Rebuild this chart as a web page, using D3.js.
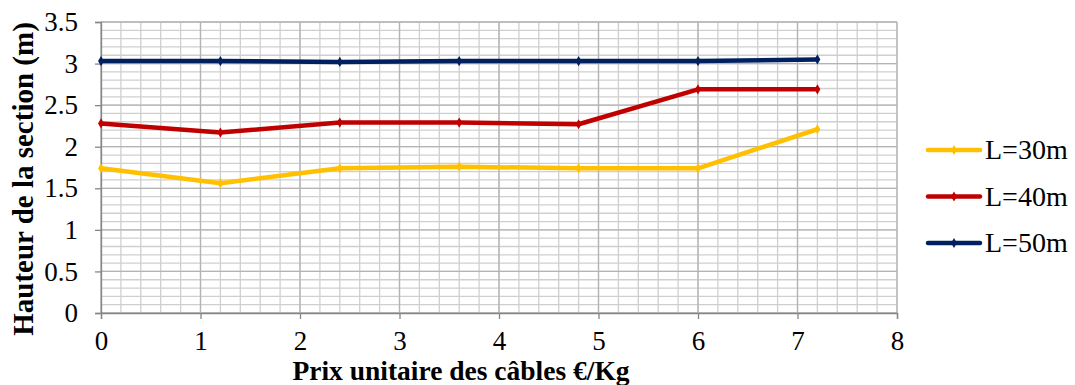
<!DOCTYPE html>
<html><head><meta charset="utf-8">
<script src="https://cdn.jsdelivr.net/npm/d3@7"></script>
<style>body{margin:0;background:#fff}svg{display:block}</style>
</head><body>
<svg id="c" width="1075" height="385"></svg>
<script>
const xValues = [0, 1.2, 2.4, 3.6, 4.8, 6, 7.2];
const seriesNames = ["L=30m", "L=40m", "L=50m"];
const l30 = [1.74, 1.56, 1.74, 1.76, 1.74, 1.74, 2.21];
const l40 = [2.28, 2.17, 2.29, 2.29, 2.27, 2.69, 2.69];
const l50 = [3.03, 3.03, 3.02, 3.03, 3.03, 3.03, 3.05];
const seriesColors = ["#FFC000", "#C00000", "#002060"];
const xTicks = [0,1,2,3,4,5,6,7,8];
const yTicks = [0,0.5,1,1.5,2,2.5,3,3.5];

const series = [l30, l40, l50];
const svg = d3.select("#c");
const font = "'Liberation Serif','Times New Roman',serif";
const x = d3.scaleLinear().domain([0,8]).range([101,897]);
const y = d3.scaleLinear().domain([0,3.5]).range([313,22]);

// minor grid
const g = svg.append("g");
g.selectAll("line.vx").data(d3.range(0,8.0001,0.2)).join("line")
  .attr("x1",d=>x(d)).attr("x2",d=>x(d)).attr("y1",y(0)).attr("y2",y(3.5))
  .attr("stroke","#cfcfcf").attr("stroke-width",1.3);
g.selectAll("line.hy").data(d3.range(0,3.5001,0.1)).join("line")
  .attr("x1",x(0)).attr("x2",x(8)).attr("y1",d=>y(d)).attr("y2",d=>y(d))
  .attr("stroke","#cfcfcf").attr("stroke-width",1.3);
// major grid
g.selectAll("line.mx").data(xTicks).join("line")
  .attr("x1",d=>x(d)).attr("x2",d=>x(d)).attr("y1",y(0)).attr("y2",y(3.5))
  .attr("stroke","#b4b4b4").attr("stroke-width",1.3);
g.selectAll("line.my").data(yTicks).join("line")
  .attr("x1",x(0)).attr("x2",x(8)).attr("y1",d=>y(d)).attr("y2",d=>y(d))
  .attr("stroke","#b4b4b4").attr("stroke-width",1.3);

// axes
const xa = svg.append("g").attr("transform",`translate(0,${y(0)})`)
  .call(d3.axisBottom(x).tickValues(xTicks).tickSize(6).tickPadding(12).tickFormat(d3.format("d")));
const ya = svg.append("g").attr("transform",`translate(${x(0)},0)`)
  .call(d3.axisLeft(y).tickValues(yTicks).tickSize(6).tickPadding(17).tickFormat(d=>String(d)));
[xa,ya].forEach(a=>{
  a.select(".domain").attr("stroke","#868686").attr("stroke-width",1.3);
  a.selectAll(".tick line").attr("stroke","#868686").attr("stroke-width",1.3);
  a.selectAll("text").attr("font-family",font).attr("font-size",27).attr("fill","#000");
});

// lines
const line = d3.line().x((d,i)=>x(xValues[i])).y(d=>y(d));
series.forEach((s,k)=>{
  svg.append("path").datum(s).attr("d",line).attr("fill","none")
    .attr("stroke",seriesColors[k]).attr("stroke-width",4.5).attr("stroke-linejoin","round");
  svg.append("g").selectAll("path").data(s).join("path")
    .attr("transform",(d,i)=>`translate(${x(xValues[i])},${y(d)})`)
    .attr("d",d3.symbol(d3.symbolDiamond,30)).attr("fill",seriesColors[k]);
});

// axis titles
svg.append("text").attr("transform",`translate(33,179) rotate(-90)`)
  .attr("text-anchor","middle").attr("font-family",font).attr("font-weight","bold")
  .attr("font-size",29).text("Hauteur de la section (m)");
svg.append("text").attr("x",461).attr("y",380)
  .attr("text-anchor","middle").attr("font-family",font).attr("font-weight","bold")
  .attr("font-size",27.5).text("Prix unitaire des câbles €/Kg");

// legend
const lg = svg.append("g");
seriesNames.forEach((n,k)=>{
  const yy = 150 + k*46.5;
  lg.append("line").attr("x1",928).attr("x2",980).attr("y1",yy).attr("y2",yy)
    .attr("stroke",seriesColors[k]).attr("stroke-width",4.5).attr("stroke-linecap","round");
  lg.append("path").attr("transform",`translate(954,${yy})`)
    .attr("d",d3.symbol(d3.symbolDiamond,30)).attr("fill",seriesColors[k]);
  lg.append("text").attr("x",985).attr("y",yy+9.3).attr("font-family",font)
    .attr("font-size",28).text(n);
});
</script>
</body></html>
